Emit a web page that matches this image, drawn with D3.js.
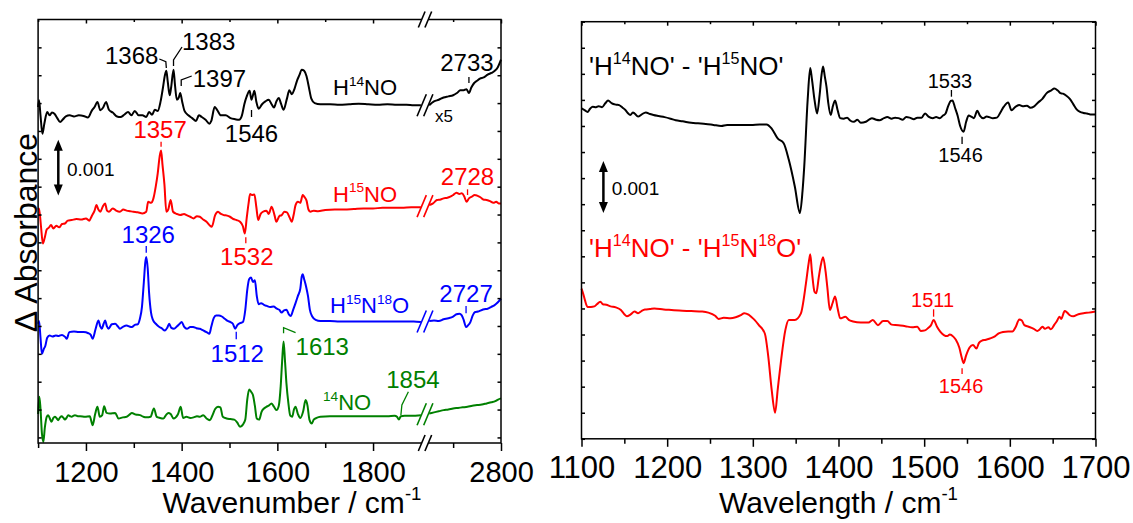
<!DOCTYPE html>
<html><head><meta charset="utf-8">
<script src="https://cdn.jsdelivr.net/npm/d3@7"></script>
<style>
html,body{margin:0;padding:0;background:#fff;}
svg{display:block;font-family:"Liberation Sans",Arial,Helvetica,sans-serif;}
</style></head><body>
<svg id="chart" width="1133" height="523"></svg>
<script>
// ---------- Spectra: [wavenumber (cm-1), ΔA in units of 1e-3] ----------
// Left panel: values relative to each trace's flat level; 2650-2800 region shown x5.
const h14noLow = [[1100,-0.05],[1102,0.07],[1105,-0.2],[1109,-0.53],[1113,-0.35],[1119,-0.14],[1124,-0.2],[1129,-0.15],[1135,-0.18],[1140,-0.25],[1146,-0.32],[1152,-0.27],[1158,-0.22],[1166,-0.2],[1175,-0.22],[1185,-0.2],[1195,-0.21],[1204,-0.24],[1212,-0.12],[1218,-0.05],[1224,0.04],[1230,-0.11],[1236,-0.06],[1242,0.04],[1248,-0.1],[1256,-0.15],[1265,-0.22],[1272,-0.23],[1280,-0.19],[1288,-0.14],[1295,-0.2],[1302,-0.12],[1310,-0.2],[1318,-0.2],[1326,-0.23],[1332,-0.14],[1338,-0.19],[1344,-0.1],[1350,-0.12],[1356,0.05],[1361,0.3],[1365,0.52],[1368,0.6],[1371,0.4],[1375,0.16],[1378,0.3],[1383,0.62],[1386,0.35],[1390,0.08],[1394,0.12],[1397,0.2],[1401,0.05],[1406,-0.12],[1414,-0.2],[1422,-0.25],[1430,-0.3],[1436,-0.2],[1442,-0.23],[1450,-0.28],[1458,-0.35],[1462,-0.3],[1469,-0.05],[1474,-0.1],[1482,-0.2],[1492,-0.2],[1502,-0.25],[1512,-0.27],[1520,-0.28],[1526,-0.2],[1531,0.0],[1536,0.14],[1542,0.24],[1546,0.08],[1549,0.16],[1552,0.24],[1556,0.05],[1561,-0.08],[1568,0.0],[1575,0.05],[1582,0.08],[1588,0.0],[1593,-0.06],[1598,0.05],[1603,0.11],[1608,0.0],[1613,-0.1],[1620,0.1],[1625,0.25],[1630,0.18],[1636,0.28],[1641,0.42],[1646,0.52],[1651,0.62],[1656,0.6],[1661,0.5],[1666,0.3],[1671,0.1],[1678,0.02],[1690,0.0],[1710,0.0],[1730,-0.01],[1750,0.0],[1770,0.01],[1790,0.0],[1810,-0.01],[1830,0.0],[1850,-0.01],[1870,-0.01],[1885,-0.02],[1900,-0.02]];
const h14noHigh = [[2650,-0.02],[2660,0.05],[2670,0.08],[2680,0.12],[2690,0.14],[2700,0.16],[2708,0.2],[2715,0.25],[2722,0.25],[2728,0.27],[2733,0.2],[2738,0.3],[2744,0.38],[2750,0.42],[2756,0.46],[2764,0.48],[2772,0.53],[2780,0.56],[2787,0.6],[2793,0.66],[2800,0.8]];

const h15noLow = [[1100,0.0],[1102,0.02],[1106,-0.3],[1110,-0.61],[1114,-0.5],[1118,-0.36],[1122,-0.33],[1127,-0.28],[1132,-0.34],[1138,-0.29],[1144,-0.32],[1150,-0.26],[1156,-0.25],[1162,-0.2],[1170,-0.19],[1180,-0.17],[1190,-0.18],[1200,-0.16],[1207,-0.2],[1212,-0.12],[1218,-0.02],[1222,0.08],[1226,0.0],[1230,-0.04],[1235,0.05],[1240,0.11],[1244,-0.02],[1248,-0.04],[1256,0.02],[1263,-0.02],[1271,-0.04],[1278,0.0],[1285,-0.02],[1292,-0.03],[1299,-0.04],[1308,-0.05],[1318,-0.07],[1326,-0.04],[1330,0.14],[1336,0.12],[1341,0.2],[1346,0.42],[1350,0.65],[1354,0.95],[1357,1.06],[1360,0.8],[1364,0.45],[1368,-0.04],[1372,0.0],[1377,0.17],[1382,-0.04],[1390,-0.08],[1397,-0.1],[1405,-0.08],[1410,-0.1],[1418,-0.13],[1425,-0.16],[1432,-0.12],[1438,-0.13],[1445,-0.18],[1452,-0.22],[1458,-0.28],[1463,-0.31],[1470,-0.1],[1476,-0.04],[1482,-0.08],[1488,-0.1],[1495,-0.11],[1501,-0.13],[1508,-0.17],[1515,-0.19],[1522,-0.22],[1528,-0.3],[1532,-0.43],[1536,-0.15],[1540,0.12],[1543,0.28],[1547,0.26],[1552,0.27],[1556,0.05],[1560,-0.19],[1565,-0.08],[1570,-0.04],[1577,-0.02],[1582,-0.08],[1588,0.05],[1594,-0.1],[1598,-0.22],[1604,-0.12],[1609,-0.1],[1615,-0.04],[1620,-0.05],[1626,-0.15],[1630,-0.22],[1634,-0.1],[1638,0.08],[1643,0.14],[1648,0.12],[1653,0.26],[1657,0.22],[1661,0.16],[1665,0.0],[1669,-0.04],[1676,-0.02],[1685,-0.03],[1700,-0.01],[1720,0.0],[1740,0.0],[1760,0.01],[1780,0.02],[1800,0.02],[1820,0.03],[1840,0.03],[1860,0.03],[1880,0.04],[1900,0.04]];
const h15noHigh = [[2650,0.08],[2658,0.11],[2666,0.17],[2674,0.18],[2680,0.2],[2688,0.21],[2694,0.23],[2700,0.26],[2707,0.3],[2713,0.28],[2718,0.29],[2723,0.24],[2728,0.14],[2733,0.2],[2739,0.23],[2745,0.26],[2750,0.25],[2757,0.22],[2763,0.18],[2770,0.17],[2777,0.15],[2784,0.12],[2790,0.14],[2795,0.11],[2800,0.11]];

const h15n18oLow = [[1100,-0.05],[1102,0.0],[1105,-0.3],[1108,-0.59],[1112,-0.5],[1115,-0.45],[1119,-0.3],[1124,-0.26],[1130,-0.28],[1137,-0.26],[1143,-0.27],[1150,-0.25],[1157,-0.29],[1160,-0.32],[1165,-0.2],[1175,-0.19],[1185,-0.2],[1195,-0.2],[1205,-0.22],[1210,-0.25],[1214,-0.32],[1220,-0.15],[1226,0.01],[1230,-0.1],[1233,-0.14],[1237,-0.05],[1240,0.01],[1244,-0.1],[1247,-0.14],[1254,-0.06],[1261,-0.05],[1267,-0.1],[1271,-0.14],[1278,-0.1],[1285,-0.08],[1291,-0.1],[1296,-0.11],[1302,-0.07],[1308,-0.06],[1313,0.05],[1317,0.25],[1321,0.7],[1324,1.05],[1326,1.15],[1329,0.95],[1332,0.5],[1336,0.15],[1340,0.02],[1346,-0.05],[1352,-0.1],[1358,-0.13],[1365,-0.17],[1370,-0.12],[1374,-0.05],[1378,-0.12],[1384,-0.14],[1390,-0.1],[1395,-0.06],[1400,-0.02],[1405,-0.1],[1411,-0.14],[1418,-0.11],[1424,-0.11],[1431,-0.13],[1438,-0.14],[1445,-0.17],[1452,-0.2],[1458,-0.23],[1462,-0.1],[1467,0.05],[1472,0.1],[1478,0.1],[1484,0.08],[1490,0.04],[1496,0.0],[1502,-0.02],[1507,-0.05],[1512,-0.14],[1516,-0.08],[1522,-0.04],[1528,-0.02],[1533,0.2],[1537,0.55],[1541,0.75],[1545,0.78],[1549,0.7],[1553,0.73],[1557,0.45],[1561,0.3],[1566,0.32],[1572,0.29],[1578,0.27],[1585,0.25],[1592,0.26],[1599,0.22],[1604,0.2],[1609,0.15],[1614,0.19],[1619,0.2],[1624,0.12],[1628,0.09],[1633,0.2],[1638,0.32],[1643,0.45],[1648,0.58],[1651,0.8],[1653,0.84],[1656,0.75],[1660,0.62],[1664,0.45],[1668,0.2],[1673,0.08],[1680,0.02],[1690,0.0],[1710,0.0],[1730,-0.01],[1750,-0.01],[1770,-0.01],[1790,-0.01],[1810,-0.01],[1830,-0.01],[1850,-0.01],[1870,-0.01],[1885,-0.01],[1900,-0.02]];
const h15n18oHigh = [[2650,0.0],[2660,0.01],[2670,0.0],[2680,0.03],[2690,0.05],[2700,0.08],[2707,0.12],[2713,0.13],[2718,0.1],[2722,0.02],[2727,-0.11],[2731,-0.08],[2736,-0.02],[2741,0.1],[2746,0.16],[2752,0.17],[2758,0.19],[2765,0.21],[2772,0.22],[2779,0.25],[2786,0.28],[2793,0.33],[2800,0.4]];

const no14Low = [[1100,0.05],[1102.6,0.36],[1105,0.15],[1108,-0.3],[1111,-0.45],[1114,-0.2],[1118,0.0],[1121,0.03],[1125,-0.04],[1128,-0.09],[1132,-0.02],[1135,0.0],[1139,-0.03],[1142,-0.06],[1146,-0.01],[1149,0.01],[1153,-0.02],[1156,-0.05],[1160,-0.01],[1163,0.03],[1167,0.01],[1170,0.0],[1174,0.02],[1177,0.03],[1183,0.01],[1188,0.01],[1198,0.0],[1208,0.01],[1214,-0.15],[1219,0.04],[1224,0.18],[1229,0.0],[1234,0.03],[1238,0.19],[1243,0.07],[1250,0.06],[1261,0.07],[1268,-0.03],[1277,-0.01],[1285,0.0],[1291,0.04],[1296,0.07],[1304,0.04],[1313,0.03],[1320,0.0],[1327,-0.01],[1335,0.0],[1342,0.15],[1348,0.0],[1355,-0.02],[1362,-0.03],[1368,0.04],[1372,0.07],[1377,0.05],[1383,-0.03],[1392,0.04],[1398,0.18],[1403,-0.02],[1410,0.0],[1418,-0.02],[1425,-0.01],[1432,0.01],[1438,0.0],[1445,0.03],[1452,-0.03],[1459,-0.06],[1464,0.02],[1470,0.14],[1476,0.18],[1481,0.17],[1486,0.0],[1494,-0.03],[1502,-0.04],[1510,-0.05],[1516,-0.1],[1522,-0.18],[1528,-0.14],[1533,-0.05],[1537,0.3],[1541,0.49],[1545,0.45],[1549,0.39],[1553,0.2],[1557,-0.03],[1562,-0.05],[1567,0.09],[1572,0.15],[1577,0.18],[1582,0.2],[1588,0.24],[1593,0.18],[1598,0.12],[1603,0.2],[1607,0.55],[1610,1.0],[1613,1.35],[1616,1.0],[1619,0.6],[1623,0.25],[1627,0.02],[1631,0.0],[1635,0.14],[1638,0.18],[1643,0.05],[1648,-0.02],[1654,0.1],[1659,0.3],[1663,0.2],[1667,-0.05],[1672,-0.12],[1676,-0.05],[1682,-0.02],[1690,0.0],[1710,0.01],[1730,0.01],[1750,0.01],[1770,0.01],[1790,0.01],[1810,0.01],[1830,0.01],[1845,0.02],[1850,0.0],[1854,-0.05],[1858,0.01],[1866,0.02],[1880,0.02],[1900,0.03]];
const no14High = [[2650,0.06],[2660,0.08],[2670,0.1],[2680,0.12],[2690,0.13],[2700,0.15],[2710,0.16],[2720,0.17],[2730,0.18],[2740,0.2],[2750,0.21],[2760,0.22],[2770,0.24],[2780,0.26],[2788,0.28],[2794,0.31],[2800,0.33]];

// flat level of each stacked trace (1e-3 units)
const stackOffsets = [5.98, 4.09, 2.09, 0.37];
const stackColors = ["#000000", "#ff0000", "#0000ff", "#008000"];

// Right panel: difference spectra (1e-3 units)
const diff15 = [[1100,6.34],[1104,6.3],[1107,6.27],[1110,6.33],[1113,6.37],[1117,6.36],[1120,6.38],[1124,6.36],[1128,6.44],[1131,6.49],[1135,6.44],[1140,6.41],[1144,6.4],[1148,6.35],[1151,6.31],[1154,6.25],[1157,6.21],[1160,6.26],[1162,6.24],[1166,6.18],[1170,6.22],[1175,6.26],[1180,6.23],[1184,6.21],[1190,6.19],[1197,6.17],[1204,6.14],[1210,6.11],[1218,6.09],[1228,6.06],[1236,6.05],[1245,6.04],[1254,6.02],[1263,6.0],[1270,6.02],[1276,6.02],[1287,6.02],[1298,6.02],[1308,6.03],[1316,6.03],[1322,5.95],[1329,5.76],[1336,5.67],[1342,5.35],[1349,4.84],[1355,4.33],[1358,4.75],[1360,5.22],[1364,6.5],[1367,7.11],[1369,6.9],[1372,6.5],[1375,6.24],[1378,6.6],[1380,6.95],[1382,7.14],[1384,6.95],[1386,6.75],[1388,6.45],[1391,6.21],[1393,6.35],[1396,6.49],[1399,6.3],[1402,6.15],[1406,6.14],[1410,6.16],[1414,6.1],[1418,6.08],[1422,6.12],[1426,6.06],[1432,6.08],[1439,6.15],[1444,6.12],[1448,6.11],[1453,6.15],[1457,6.17],[1462,6.14],[1466,6.16],[1470,6.15],[1475,6.12],[1479,6.17],[1483,6.16],[1488,6.13],[1492,6.16],[1497,6.16],[1501,6.24],[1505,6.18],[1510,6.15],[1514,6.17],[1518,6.15],[1522,6.2],[1525,6.24],[1528,6.38],[1531,6.48],[1533,6.49],[1536,6.35],[1539,6.2],[1542,6.0],[1546,5.89],[1549,6.08],[1552,6.2],[1555,6.18],[1558,6.15],[1562,6.29],[1565,6.2],[1569,6.15],[1573,6.18],[1576,6.17],[1580,6.15],[1585,6.16],[1589,6.26],[1593,6.37],[1598,6.45],[1602,6.3],[1606,6.36],[1611,6.4],[1615,6.38],[1620,6.39],[1624,6.35],[1628,6.37],[1633,6.45],[1638,6.52],[1643,6.63],[1648,6.68],[1652,6.72],[1656,6.68],[1659,6.63],[1662,6.62],[1666,6.58],[1670,6.52],[1674,6.42],[1678,6.32],[1682,6.27],[1686,6.25],[1690,6.24],[1694,6.22],[1700,6.22]];
const diff1518 = [[1100,2.88],[1102,2.78],[1104,2.66],[1107,2.53],[1111,2.53],[1115,2.54],[1118,2.58],[1122,2.63],[1125,2.58],[1129,2.57],[1134,2.54],[1140,2.52],[1146,2.47],[1150,2.39],[1153,2.35],[1157,2.38],[1162,2.44],[1166,2.41],[1170,2.45],[1174,2.48],[1180,2.49],[1185,2.5],[1196,2.48],[1205,2.47],[1214,2.46],[1228,2.45],[1241,2.44],[1248,2.42],[1256,2.36],[1260,2.3],[1266,2.32],[1274,2.31],[1280,2.33],[1286,2.37],[1290,2.41],[1295,2.38],[1298,2.34],[1302,2.28],[1307,2.18],[1314,2.02],[1318,1.58],[1322,0.94],[1326,0.5],[1329,0.94],[1333,1.51],[1338,2.09],[1342,2.28],[1349,2.28],[1356,2.4],[1362,2.98],[1365,3.35],[1367,3.54],[1369,3.2],[1372,2.82],[1374,2.79],[1377,3.1],[1379,3.3],[1382,3.48],[1385,3.2],[1387,2.9],[1390,2.47],[1393,2.6],[1396,2.73],[1399,2.5],[1402,2.31],[1408,2.34],[1412,2.28],[1417,2.25],[1426,2.23],[1435,2.23],[1440,2.28],[1446,2.18],[1452,2.26],[1457,2.26],[1462,2.19],[1470,2.18],[1478,2.16],[1486,2.14],[1492,2.15],[1496,2.07],[1501,2.08],[1505,2.13],[1508,2.18],[1511,2.28],[1515,2.15],[1519,2.05],[1523,1.99],[1527,1.97],[1530,2.0],[1534,1.96],[1537,1.9],[1541,1.75],[1544,1.55],[1546,1.45],[1549,1.6],[1553,1.75],[1557,1.8],[1561,1.73],[1564,1.84],[1567,1.88],[1572,1.9],[1578,1.93],[1583,1.97],[1587,2.02],[1592,2.05],[1598,2.06],[1603,2.06],[1607,2.15],[1611,2.29],[1614,2.27],[1617,2.18],[1622,2.15],[1628,2.11],[1632,2.07],[1635,2.1],[1638,2.15],[1641,2.11],[1645,2.14],[1648,2.1],[1652,2.19],[1655,2.26],[1658,2.34],[1660,2.3],[1664,2.45],[1667,2.42],[1670,2.37],[1674,2.35],[1680,2.39],[1686,2.41],[1692,2.42],[1700,2.44]];

// Axis ticks
const leftMajorTicks = [1200, 1400, 1600, 1800];
const leftMinorTicks = [1100, 1300, 1500, 1700];
const leftHighMajor = [2800];
const leftHighMinor = [2700];
const rightMajorTicks = [1100, 1200, 1300, 1400, 1500, 1600, 1700];
const rightMinorTicks = [1150, 1250, 1350, 1450, 1550, 1650];

// ---------- Drawing ----------
const svg = d3.select("#chart");

const L = {left: 38.1, right: 501, top: 19.5, bottom: 443, brk1: 420.9, brk2: 429.2, brkX: 425};
const xLo = d3.scaleLinear().domain([1100, 1900]).range([L.left, L.brk1]);
const xHi = d3.scaleLinear().domain([2650, 2800]).range([L.brk2, L.right]);
const xl = w => (w <= 1900 ? xLo(w) : xHi(w));
const yL = d3.scaleLinear().domain([-0.1, 7.5]).range([L.bottom, L.top]);

const R = {left: 581.5, right: 1095.5, top: 21.7, bottom: 438.8};
const xR = d3.scaleLinear().domain([1100, 1700]).range([R.left, R.right]);
const yR = d3.scaleLinear().domain([0, 8]).range([R.bottom, R.top]);

function styleAxis(g, fontSize) {
  g.select(".domain").remove();
  g.selectAll(".tick line").attr("stroke", "#000").attr("stroke-width", 1.5);
  g.selectAll(".tick text").attr("font-size", fontSize)
    .attr("font-family", '"Liberation Sans", Arial, sans-serif').attr("fill", "#000");
}

function drawTicks(xScale, major, minor, y0, y1, fontSize, pad, withLabels) {
  const b = svg.append("g").attr("transform", `translate(0,${y0})`)
    .call(d3.axisBottom(xScale).tickValues(major).tickSize(8).tickPadding(pad)
      .tickFormat(withLabels ? d3.format("d") : ""));
  styleAxis(b, fontSize);
  const bm = svg.append("g").attr("transform", `translate(0,${y0})`)
    .call(d3.axisBottom(xScale).tickValues(minor).tickSize(5).tickFormat(""));
  styleAxis(bm, fontSize);
  const t = svg.append("g").attr("transform", `translate(0,${y1})`)
    .call(d3.axisTop(xScale).tickValues(major).tickSize(-4).tickFormat(""));
  styleAxis(t, fontSize);
  const tm = svg.append("g").attr("transform", `translate(0,${y1})`)
    .call(d3.axisTop(xScale).tickValues(minor).tickSize(-2.5).tickFormat(""));
  styleAxis(tm, fontSize);
}

function drawYTicks(yScale, values, x0, x1) {
  const a = svg.append("g").attr("transform", `translate(${x0},0)`)
    .call(d3.axisLeft(yScale).tickValues(values).tickSize(-3.5).tickFormat(""));
  styleAxis(a, 10);
  const b = svg.append("g").attr("transform", `translate(${x1},0)`)
    .call(d3.axisRight(yScale).tickValues(values).tickSize(-3.5).tickFormat(""));
  styleAxis(b, 10);
}

// rich text with superscripts: parts = [[text, isSup], ...]
function richText(x, y, parts, size, color, anchor) {
  const t = svg.append("text").attr("x", x).attr("y", y)
    .attr("font-size", size).attr("fill", color).attr("text-anchor", anchor || "start");
  const shift = size * 0.42;
  let raised = false;
  parts.forEach(([s, sup]) => {
    const ts = t.append("tspan").text(s);
    if (sup) { ts.attr("font-size", size * 0.62); if (!raised) { ts.attr("dy", -shift); raised = true; } }
    else { if (raised) { ts.attr("dy", shift); raised = false; } }
  });
  return t;
}

function label(x, y, text, size, color, anchor) {
  svg.append("text").attr("x", x).attr("y", y).attr("font-size", size)
    .attr("fill", color).attr("text-anchor", anchor || "middle").text(text);
}

function leader(points, color) {
  svg.append("path").attr("d", d3.line()(points)).attr("fill", "none")
    .attr("stroke", color).attr("stroke-width", 1.3);
}

function slashes(cx, cy, h, color, blankFrame) {
  const w = h * 0.42, o = 3.3;
  if (blankFrame) {
    svg.append("rect").attr("x", cx - o).attr("y", cy - 2.5).attr("width", 2 * o).attr("height", 5).attr("fill", "#fff");
  }
  [-o, o].forEach(d => {
    svg.append("line").attr("x1", cx + d - w / 2).attr("y1", cy + h / 2)
      .attr("x2", cx + d + w / 2).attr("y2", cy - h / 2)
      .attr("stroke", color).attr("stroke-width", 1.6);
  });
}

function scaleBar(x, yTop, yBot, labelX, labelY) {
  const head = 11, hw = 4.5;
  svg.append("line").attr("x1", x).attr("x2", x).attr("y1", yTop + head - 1).attr("y2", yBot - head + 1)
    .attr("stroke", "#000").attr("stroke-width", 2.5);
  svg.append("path").attr("d", `M${x},${yTop} L${x - hw},${yTop + head} L${x + hw},${yTop + head} Z`).attr("fill", "#000");
  svg.append("path").attr("d", `M${x},${yBot} L${x - hw},${yBot - head} L${x + hw},${yBot - head} Z`).attr("fill", "#000");
  label(labelX, labelY, "0.001", 19, "#000", "start");
}

// ----- left panel: stacked spectra with broken axis -----
const leftTraces = [
  {low: h14noLow, high: h14noHigh},
  {low: h15noLow, high: h15noHigh},
  {low: h15n18oLow, high: h15n18oHigh},
  {low: no14Low, high: no14High}
];

leftTraces.forEach((tr, i) => {
  const off = stackOffsets[i], col = stackColors[i];
  const lineLo = d3.line().x(d => xLo(d[0])).y(d => yL(off + d[1])).curve(d3.curveMonotoneX);
  const lineHi = d3.line().x(d => xHi(d[0])).y(d => yL(off + d[1])).curve(d3.curveMonotoneX);
  svg.append("path").attr("d", lineLo(tr.low)).attr("fill", "none").attr("stroke", col).attr("stroke-width", 2).attr("stroke-linejoin", "round");
  svg.append("path").attr("d", lineHi(tr.high)).attr("fill", "none").attr("stroke", col).attr("stroke-width", 2).attr("stroke-linejoin", "round");
  const yEnd = (yL(off + tr.low[tr.low.length - 1][1]) + yL(off + tr.high[0][1])) / 2;
  slashes(L.brkX, yEnd, 22, col, false);
});

svg.append("rect").attr("x", L.left).attr("y", L.top).attr("width", L.right - L.left).attr("height", L.bottom - L.top)
  .attr("fill", "none").attr("stroke", "#000").attr("stroke-width", 1.5);
drawTicks(xLo, leftMajorTicks, leftMinorTicks, L.bottom, L.top, 29, 10, true);
drawTicks(xHi, leftHighMajor, leftHighMinor, L.bottom, L.top, 29, 10, true);
drawYTicks(yL, d3.range(0, 7.01, 0.5), L.left, L.right);
slashes(L.brkX, L.top, 16, "#000", true);
slashes(L.brkX, L.bottom, 16, "#000", true);

// axis titles
richText(292, 513, [["Wavenumber / cm", false], ["-1", true]], 30, "#000", "middle");
svg.append("text").attr("transform", "translate(36.5,232.5) rotate(-90)").attr("text-anchor", "middle")
  .attr("font-size", 32).attr("fill", "#000").text("\u0394 Absorbance");

// trace names
richText(333, 95, [["H", false], ["14", true], ["NO", false]], 22, stackColors[0]);
label(435, 122, "x5", 17, "#000", "start");
richText(333, 201.7, [["H", false], ["15", true], ["NO", false]], 22, stackColors[1]);
richText(330, 313.3, [["H", false], ["15", true], ["N", false], ["18", true], ["O", false]], 22, stackColors[2]);
richText(323, 410, [["14", true], ["NO", false]], 22, stackColors[3]);

// band assignments (left)
const k = stackColors;
let x;
x = xl(1368); leader([[x, 68], [x - 0.5, 61.7], [x - 7, 59]], k[0]); label(x - 8, 64, "1368", 24, k[0], "end");
x = xl(1383); leader([[x, 66], [x, 60], [x + 8.5, 47]], k[0]); label(x + 8.5, 50, "1383", 24, k[0], "start");
x = xl(1397); leader([[x + 1, 86], [x + 1, 80], [x + 11.5, 76]], k[0]); label(x + 12.5, 87, "1397", 24, k[0], "start");
x = xl(1546); leader([[x, 110], [x, 117]], k[0]); label(x, 141.7, "1546", 24, k[0]);
x = xl(2733); leader([[x, 77], [x, 83]], k[0]); label(x - 2, 70.7, "2733", 24, k[0]);
x = xl(1357); leader([[x, 141.7], [x, 146.7]], k[1]); label(x - 1, 138.3, "1357", 24, k[1]);
x = xl(1532); leader([[x + 1, 237.3], [x + 1, 243.3]], k[1]); label(x + 2, 265, "1532", 24, k[1]);
x = xl(2728); leader([[x + 1, 189.3], [x + 1, 195]], k[1]); label(x + 1, 185, "2728", 24, k[1]);
x = xl(1326); leader([[x, 246], [x, 252.7]], k[2]); label(x + 2, 243.3, "1326", 24, k[2]);
x = xl(1512); leader([[x + 1, 331.7], [x + 1, 339.3]], k[2]); label(x + 2, 361.7, "1512", 24, k[2]);
x = xl(2727); leader([[x, 306], [x, 313.3]], k[2]); label(x, 301.7, "2727", 24, k[2]);
x = xl(1613); leader([[x, 333.3], [x, 327.7], [x + 12, 332.7]], k[3]); label(x + 12, 355, "1613", 24, k[3], "start");
x = xl(1854); leader([[x + 2, 415], [x + 3, 405], [x + 9.5, 391.7]], k[3]); label(x + 14, 388.3, "1854", 24, k[3]);

scaleBar(58.3, yL(5.34), yL(4.34), 67, 176);

// ----- right panel: difference spectra -----
const lineR = d3.line().x(d => xR(d[0])).y(d => yR(d[1])).curve(d3.curveMonotoneX);
svg.append("path").attr("d", lineR(diff15)).attr("fill", "none").attr("stroke", "#000").attr("stroke-width", 2).attr("stroke-linejoin", "round");
svg.append("path").attr("d", lineR(diff1518)).attr("fill", "none").attr("stroke", "#ff0000").attr("stroke-width", 2).attr("stroke-linejoin", "round");

svg.append("rect").attr("x", R.left).attr("y", R.top).attr("width", R.right - R.left).attr("height", R.bottom - R.top)
  .attr("fill", "none").attr("stroke", "#000").attr("stroke-width", 1.5);
drawTicks(xR, rightMajorTicks, rightMinorTicks, R.bottom, R.top, 31, 9, true);
drawYTicks(yR, d3.range(0, 8.01, 0.5), R.left, R.right);

richText(838.5, 513, [["Wavelength / cm", false], ["-1", true]], 30, "#000", "middle");

richText(589, 75, [["'H", false], ["14", true], ["NO' - 'H", false], ["15", true], ["NO'", false]], 26, "#000");
richText(589, 257, [["'H", false], ["14", true], ["NO' - 'H", false], ["15", true], ["N", false], ["18", true], ["O'", false]], 26, "#ff0000");

x = xR(1533); leader([[x - 1, 90], [x - 1, 96.7]], "#000"); label(x - 2.5, 88.3, "1533", 20, "#000");
x = xR(1546); leader([[x - 1.5, 136.7], [x - 1.5, 144]], "#000"); label(x - 3, 161.7, "1546", 20, "#000");
x = xR(1511); leader([[x, 309.3], [x, 316.7]], "#ff0000"); label(x - 1, 307.3, "1511", 20, "#ff0000");
x = xR(1546); leader([[x - 1.5, 368.3], [x - 1.5, 374]], "#ff0000"); label(x - 2.5, 392.7, "1546", 20, "#ff0000");

scaleBar(603.4, yR(5.33), yR(4.33), 611.7, 195);
</script></body></html>
